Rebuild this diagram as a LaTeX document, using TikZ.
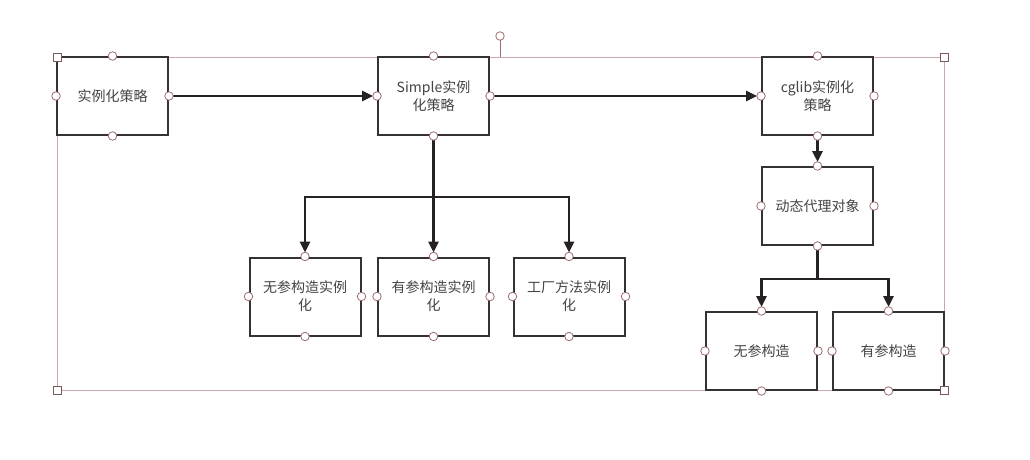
\documentclass[tikz,border=0pt]{standalone}
\usepackage{fontspec}
\setmainfont{Noto Sans CJK SC}
\usetikzlibrary{arrows.meta}
\definecolor{boxline}{HTML}{333333}
\definecolor{txt}{HTML}{444444}
\definecolor{arr}{HTML}{262223}
\definecolor{sel}{HTML}{C9A9AB}
\definecolor{hdl}{HTML}{9C6E70}
\tikzset{
  box/.style={draw=boxline, line width=2pt, fill=white, minimum width=111pt, minimum height=78pt,
    inner sep=2pt, align=center, text=txt, font=\fontsize{14pt}{18pt}\selectfont, text width=104pt},
  conn/.style={draw=arr, line width=2.6pt, -{Triangle[length=11pt,width=10pt]}, shorten >=4pt},
  plainconn/.style={draw=arr, line width=2.6pt},
  hc/.style={circle, draw=hdl, fill=white, line width=0.8pt, minimum size=8.5pt, inner sep=0pt},
  hs/.style={rectangle, draw=hdl!80!black, fill=white, line width=0.8pt, minimum size=8pt, inner sep=0pt},
  selrect/.style={draw=sel, line width=0.8pt}
}
\begin{document}
\begin{tikzpicture}[x=1pt,y=-1pt]
\useasboundingbox[fill=white] (0,0) rectangle (1030,460);
% selection rectangle
\draw[selrect] (57,57) rectangle (944,390);
\coordinate (rotbase) at (500,57);
\coordinate (rottop) at (500,36);
\draw[selrect, draw=hdl] (rotbase) -- (rottop);
% boxes
\node[box] (A) at (112.5,96) {实例化策略};
\node[box] (B) at (433.5,96) {Simple实例\\化策略};
\node[box] (C) at (817.5,96) {cglib实例化\\策略};
\node[box] (D) at (817.5,206) {动态代理对象};
\node[box] (b1) at (305,296.5) {无参构造实例\\化};
\node[box] (b2) at (433.5,296.5) {有参构造实例\\化};
\node[box] (b3) at (569,296.5) {工厂方法实例\\化};
\node[box] (c1) at (761.5,351) {无参构造};
\node[box] (c2) at (888.5,351) {有参构造};
% junctions
\coordinate (j1) at (433.5,197);
\coordinate (j2) at (817.5,279);
% connectors
\draw[conn] (A.east) -- (B.west);
\draw[conn] (B.east) -- (C.west);
\draw[conn] (C.south) -- (D.north);
\draw[plainconn] (B.south) -- (j1);
\draw[conn] (j1) -| (b1.north);
\draw[conn] (j1) -- (b2.north);
\draw[conn] (j1) -| (b3.north);
\draw[plainconn] (D.south) -- (j2);
\draw[conn] (j2) -| (c1.north);
\draw[conn] (j2) -| (c2.north);
% handles
\foreach \n in {A,B,C,D,b1,b2,b3,c1,c2}{
  \foreach \a in {north,south,east,west}{
    \node[hc] (h-\n-\a) at (\n.\a) {};
  }
}
\node[hc] (hrot) at (rottop) {};
\node[hs] (s1) at (57,57) {};
\node[hs] (s2) at (944,57) {};
\node[hs] (s3) at (57,390) {};
\node[hs] (s4) at (944,390) {};
\end{tikzpicture}
\end{document}
